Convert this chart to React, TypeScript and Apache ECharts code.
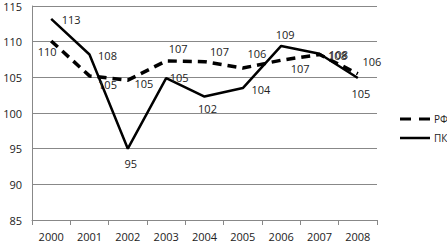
import React, { useEffect, useRef } from "react";
import * as echarts from "echarts";

const years = ["2000", "2001", "2002", "2003", "2004", "2005", "2006", "2007", "2008"];
const rfValues = [110.1, 105.2, 104.6, 107.3, 107.2, 106.3, 107.4, 108.2, 105.5];
const pkValues = [113.2, 108.2, 95.0, 104.9, 102.3, 103.5, 109.4, 108.3, 104.9];

// label placement relative to each point (pixels)
const rfLabelOffsets: [number, number][] = [
  [-4, 11], [18, 9], [16, 3], [12, -12], [15, -10], [14, -15], [19, 8], [18, 1], [14, -12],
];
const pkLabelOffsets: [number, number][] = [
  [20, 1], [18, 1], [3, 15], [13, -1], [3, 12], [18, 1], [4, -11], [19, 1], [3, 15],
];

const font = "'Open Sans', sans-serif";
const labelColor = "#222";

function labelled(vals: number[], offs: [number, number][]) {
  return vals.map((v, i) => ({
    value: v,
    label: { offset: offs[i] },
  }));
}

const seriesLabel = {
  show: true,
  position: [0.5, 0.5],
  align: "center",
  verticalAlign: "middle",
  color: labelColor,
  textBorderWidth: 0,
  textBorderColor: "transparent",
  fontSize: 11,
  fontFamily: font,
  formatter: (p: any) => String(Math.round(p.value)),
};

export default function App() {
  const ref = useRef<HTMLDivElement>(null);
  useEffect(() => {
    document.body.style.margin = "0";
    const chart = echarts.init(ref.current!, null, { renderer: "svg" });
    chart.setOption({
      animation: false,
      textStyle: { fontFamily: font },
      grid: { left: 32, right: 70, top: 6, bottom: 31 },
      legend: {
        orient: "vertical",
        left: 395,
        top: 109,
        itemGap: 9,
        itemWidth: 30,
        itemHeight: 12,
        textStyle: { fontFamily: font, fontSize: 10, color: labelColor, padding: [0, 0, 0, -1] },
        data: [
          { name: "РФ", icon: "path://M0,0 H11 V3 H0 Z M19,0 H30 V3 H19 Z", itemStyle: { color: "#000", opacity: 1 } },
          { name: "ПК", icon: "path://M0,0 H30 V2.5 H0 Z", itemStyle: { color: "#000", opacity: 1 } },
        ],
      },
      xAxis: {
        type: "category",
        data: years,
        boundaryGap: true,
        axisLine: { lineStyle: { color: "#888", width: 1 } },
        axisTick: { show: true, length: 5, lineStyle: { color: "#888" } },
        axisLabel: { color: labelColor, fontSize: 11, fontFamily: font, margin: 11 },
      },
      yAxis: {
        type: "value",
        min: 85,
        max: 115,
        interval: 5,
        axisLine: { show: true, lineStyle: { color: "#888", width: 1 } },
        axisTick: { show: false },
        splitLine: { lineStyle: { color: "#888", width: 1 } },
        axisLabel: { color: labelColor, fontSize: 11, fontFamily: font, margin: 10 },
      },
      series: [
        {
          name: "РФ",
          type: "line",
          data: labelled(rfValues, rfLabelOffsets),
          symbol: "circle",
          symbolSize: 1,
          showSymbol: true,
          lineStyle: { color: "#000", width: 3.5, type: [9, 6] },
          itemStyle: { color: "rgba(0,0,0,0)" },
          label: seriesLabel,
        },
        {
          name: "ПК",
          type: "line",
          data: labelled(pkValues, pkLabelOffsets),
          symbol: "circle",
          symbolSize: 1,
          showSymbol: true,
          lineStyle: { color: "#000", width: 2.5 },
          itemStyle: { color: "rgba(0,0,0,0)" },
          label: seriesLabel,
        },
      ],
    });
    return () => chart.dispose();
  }, []);
  return <div ref={ref} style={{ width: 447, height: 251 }} />;
}
